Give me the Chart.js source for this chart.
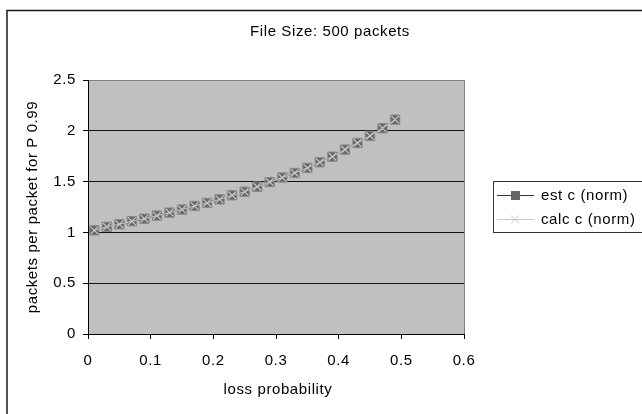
<!DOCTYPE html>
<html>
<head>
<meta charset="utf-8">
<script src="https://cdn.jsdelivr.net/npm/chart.js@4.4.1/dist/chart.umd.min.js"></script>
<style>
html,body{margin:0;padding:0;background:#fff;}
canvas{display:block;}
</style>
</head>
<body>
<canvas id="c" width="642" height="414"></canvas>
<script>
const lossProb = [0.01,0.03,0.05,0.07,0.09,0.11,0.13,0.15,0.17,0.19,0.21,0.23,0.25,0.27,0.29,0.31,0.33,0.35,0.37,0.39,0.41,0.43,0.45,0.47,0.49];
const estC  = [1.02,1.055,1.08,1.11,1.135,1.165,1.195,1.225,1.26,1.29,1.325,1.365,1.40,1.45,1.495,1.54,1.585,1.635,1.69,1.745,1.815,1.88,1.95,2.025,2.11];
const calcC = [1.02,1.055,1.08,1.11,1.135,1.165,1.195,1.225,1.26,1.29,1.325,1.365,1.40,1.45,1.495,1.54,1.585,1.635,1.69,1.745,1.815,1.88,1.95,2.025,2.11];
const xTickLabels = ['0','0.1','0.2','0.3','0.4','0.5','0.6'];
const yTickLabels = ['0','0.5','1','1.5','2','2.5'];
const seriesNames = ['est c (norm)','calc c (norm)'];
const titleText = 'File Size: 500 packets';
const xTitle = 'loss probability';
const yTitle = 'packets per packet for P 0.99';

const FAMILY = '"Liberation Sans", Arial, sans-serif';
const FSIZE = 15;
const FONT = FSIZE + 'px ' + FAMILY;
const LS = '0.6px';

const decor = {
  id: 'decor',
  beforeInit(chart) {
    chart.ctx.letterSpacing = LS;
  },
  beforeDraw(chart) {
    const {ctx, chartArea: a} = chart;
    ctx.letterSpacing = LS;
    ctx.save();
    ctx.fillStyle = '#fff';
    ctx.fillRect(0, 0, chart.width, chart.height);
    ctx.fillStyle = '#c0c0c0';
    ctx.fillRect(a.left, a.top, a.right - a.left, a.bottom - a.top);
    ctx.restore();
  },
  afterDraw(chart) {
    const {ctx, chartArea: a} = chart;
    ctx.save();
    ctx.letterSpacing = LS;
    // plot area right border
    ctx.strokeStyle = '#808080';
    ctx.lineWidth = 1;
    ctx.beginPath();
    ctx.moveTo(Math.round(a.right) + 0.5, a.top);
    ctx.lineTo(Math.round(a.right) + 0.5, a.bottom);
    ctx.stroke();
    // outer border
    ctx.strokeStyle = '#1a1a1a';
    ctx.lineWidth = 1.5;
    ctx.strokeRect(7, 10.5, 700, 500);
    // title
    ctx.fillStyle = '#000';
    ctx.font = FONT;
    ctx.textAlign = 'center';
    ctx.textBaseline = 'middle';
    ctx.fillText(titleText, 330, 32);
    // x title
    ctx.fillText(xTitle, 278, 390);
    // y title
    ctx.save();
    ctx.translate(33, (a.top + a.bottom) / 2);
    ctx.rotate(-Math.PI / 2);
    ctx.fillText(yTitle, 0, 0);
    ctx.restore();
    // legend
    ctx.strokeStyle = '#333';
    ctx.lineWidth = 1;
    ctx.strokeRect(493.5, 181.5, 160, 51);
    const ds = chart.data.datasets;
    const rows = [195, 219];
    ds.forEach((d, i) => {
      const y = rows[i] + 0.5;
      ctx.strokeStyle = d.borderColor;
      ctx.lineWidth = 1;
      ctx.beginPath();
      ctx.moveTo(497, y);
      ctx.lineTo(534, y);
      ctx.stroke();
      if (d.pointStyle === 'rect') {
        ctx.fillStyle = d.pointBackgroundColor;
        ctx.fillRect(511, y - 4.5, 9, 9);
      } else {
        ctx.strokeStyle = d.pointBorderColor;
        ctx.beginPath();
        ctx.moveTo(511, y - 4); ctx.lineTo(519, y + 4);
        ctx.moveTo(519, y - 4); ctx.lineTo(511, y + 4);
        ctx.stroke();
      }
      ctx.fillStyle = '#000';
      ctx.font = FONT;
      ctx.textAlign = 'left';
      ctx.textBaseline = 'middle';
      ctx.fillText(d.label, 541, y);
    });
    ctx.restore();
  }
};

const toPts = (xs, ys) => xs.map((x, i) => ({x: x, y: ys[i]}));

new Chart(document.getElementById('c'), {
  type: 'scatter',
  data: {
    datasets: [
      {
        label: seriesNames[0],
        data: toPts(lossProb, estC),
        showLine: true,
        borderColor: '#333333',
        borderWidth: 1,
        pointStyle: 'rect',
        pointRadius: 6.6,
        pointBackgroundColor: '#666666',
        pointBorderColor: '#8a8a8a',
        pointBorderWidth: 1,
        order: 2
      },
      {
        label: seriesNames[1],
        data: toPts(lossProb, calcC),
        showLine: true,
        borderColor: '#c8c8c8',
        borderWidth: 1,
        pointStyle: 'crossRot',
        pointRadius: 5.4,
        pointBackgroundColor: '#c8c8c8',
        pointBorderColor: '#c8c8c8',
        pointBorderWidth: 1.2,
        order: 1
      }
    ]
  },
  options: {
    responsive: false,
    animation: false,
    devicePixelRatio: 1,
    layout: {padding: {left: 0, top: 80, right: 178, bottom: 0}},
    plugins: {
      legend: {display: false},
      title: {display: false},
      tooltip: {enabled: false}
    },
    scales: {
      x: {
        type: 'linear',
        min: 0, max: 0.6,
        afterFit(s) { s.height = 80; },
        afterBuildTicks(s) { s.ticks = xTickLabels.map(v => ({value: parseFloat(v)})); },
        ticks: {
          color: '#000',
          font: {family: FAMILY, size: FSIZE},
          padding: 13,
          maxRotation: 0,
          callback: (v, i) => xTickLabels[i]
        },
        grid: {drawOnChartArea: false, tickLength: 5, tickColor: '#000', color: '#000'},
        border: {color: '#000', width: 1}
      },
      y: {
        type: 'linear',
        min: 0, max: 2.5,
        afterFit(s) { s.width = 88; },
        afterBuildTicks(s) { s.ticks = yTickLabels.map(v => ({value: parseFloat(v)})); },
        ticks: {
          color: '#000',
          font: {family: FAMILY, size: FSIZE},
          padding: 7,
          callback: (v, i) => yTickLabels[i]
        },
        grid: {
          tickLength: 5,
          tickColor: '#000',
          color: (c) => (c.tick && c.tick.value === 2.5) ? '#808080' : '#111',
          lineWidth: 1
        },
        border: {color: '#000', width: 1}
      }
    }
  },
  plugins: [decor]
});
</script>
</body>
</html>
